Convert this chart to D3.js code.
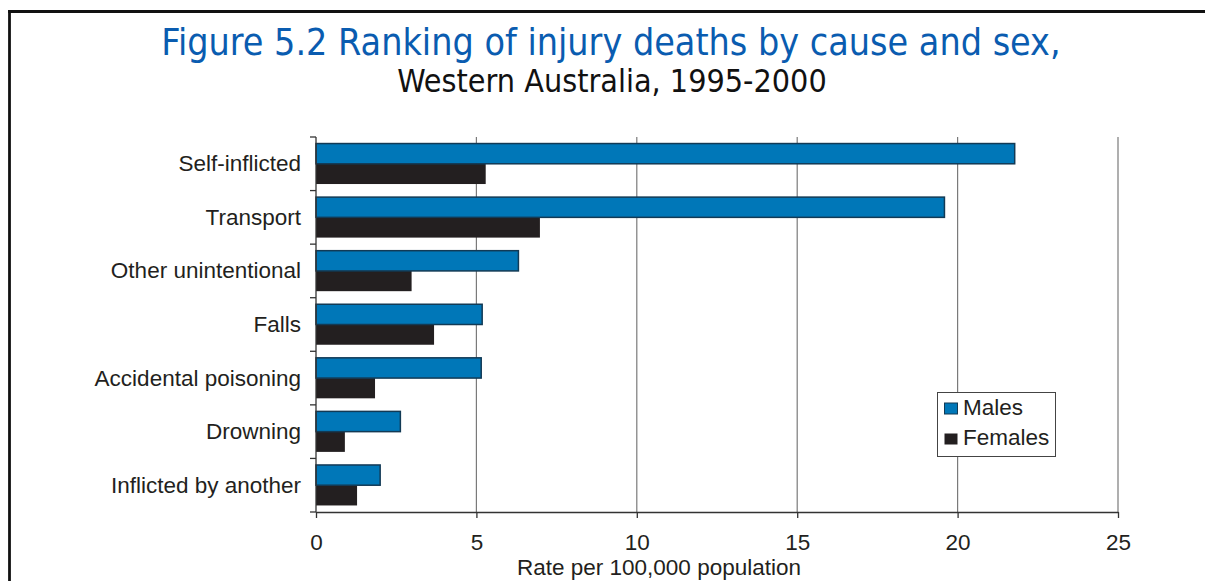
<!DOCTYPE html>
<html>
<head>
<meta charset="utf-8">
<script src="https://cdn.jsdelivr.net/npm/d3@7"></script>
<style>
  html, body { margin: 0; padding: 0; background: #fff; overflow: hidden; }
  svg { display: block; }
</style>
</head>
<body>
<svg id="chart" width="1205" height="581"></svg>
<script>
// Injury death rates per 100,000 population, WA 1995-2000
const categories = ["Self-inflicted", "Transport", "Other unintentional", "Falls",
                    "Accidental poisoning", "Drowning", "Inflicted by another"];
const males   = [21.78, 19.59, 6.31, 5.18, 5.15, 2.63, 2.00];
const females = [5.29, 6.98, 2.98, 3.68, 1.84, 0.90, 1.28];
const seriesNames = ["Males", "Females"];
const xTicks = [0, 5, 10, 15, 20, 25];

const colors = { Males: "#0077b8", Females: "#231f20" };

const svg = d3.select("#chart");
const W = 1205, H = 581;
const margin = { left: 316, right: W - 1118, top: 137, bottom: H - 512 };

// Outer frame: top and left edges (the rest runs off the page)
svg.append("line")
  .attr("x1", 9.5).attr("x2", 9.5).attr("y1", 10.1).attr("y2", H)
  .attr("stroke", "#111").attr("stroke-width", 2.8);
svg.append("line")
  .attr("x1", 8.1).attr("x2", W).attr("y1", 11.5).attr("y2", 11.5)
  .attr("stroke", "#111").attr("stroke-width", 2.8);

// Titles
svg.append("text")
  .attr("x", 611).attr("y", 55)
  .attr("text-anchor", "middle")
  .attr("font-family", "DejaVu Sans Condensed, DejaVu Sans, sans-serif")
  .attr("font-size", 37.3)
  .attr("fill", "#0a5cb0")
  .text("Figure 5.2 Ranking of injury deaths by cause and sex,");

svg.append("text")
  .attr("x", 612).attr("y", 92)
  .attr("text-anchor", "middle")
  .attr("font-family", "DejaVu Sans Condensed, DejaVu Sans, sans-serif")
  .attr("font-size", 32)
  .attr("fill", "#111")
  .text("Western Australia, 1995-2000");

const x = d3.scaleLinear().domain([0, 25]).range([margin.left, W - margin.right]);
const y = d3.scaleBand().domain(categories).range([margin.top, H - margin.bottom]).paddingInner(0).paddingOuter(0);
const sub = d3.scaleBand().domain(seriesNames).range([0, y.bandwidth()]).paddingOuter(0.323).paddingInner(0);

const font = "Liberation Sans, Arial, sans-serif";
const fs = 22.5;

// Vertical gridlines
svg.append("g").selectAll("line")
  .data(xTicks.filter(d => d > 0))
  .join("line")
  .attr("x1", d => x(d)).attr("x2", d => x(d))
  .attr("y1", margin.top).attr("y2", H - margin.bottom)
  .attr("stroke", "#7a7a7a").attr("stroke-width", 1.2);

// Bars
const rows = categories.map((c, i) => ({ cat: c, Males: males[i], Females: females[i] }));
const grp = svg.append("g").selectAll("g").data(rows).join("g")
  .attr("transform", d => `translate(0,${y(d.cat)})`);

grp.append("rect")
  .attr("x", x(0))
  .attr("y", sub("Females"))
  .attr("width", d => x(d.Females) - x(0))
  .attr("height", sub.bandwidth())
  .attr("fill", colors.Females);

grp.append("rect")
  .attr("x", x(0))
  .attr("y", sub("Males"))
  .attr("width", d => x(d.Males) - x(0))
  .attr("height", sub.bandwidth())
  .attr("fill", colors.Males)
  .attr("stroke", "#123a55").attr("stroke-width", 1.5);

// Y axis: line with ticks at band boundaries
const yAxisG = svg.append("g");
yAxisG.append("line")
  .attr("x1", x(0)).attr("x2", x(0))
  .attr("y1", margin.top).attr("y2", H - margin.bottom)
  .attr("stroke", "#333").attr("stroke-width", 1.3);
const bounds = categories.map(c => y(c)).concat([H - margin.bottom]);
yAxisG.selectAll("line.tk").data(bounds).join("line").attr("class", "tk")
  .attr("x1", x(0) - 6).attr("x2", x(0))
  .attr("y1", d => d).attr("y2", d => d)
  .attr("stroke", "#333").attr("stroke-width", 1.3);
yAxisG.selectAll("text").data(categories).join("text")
  .attr("x", 301)
  .attr("y", d => y(d) + y.bandwidth() / 2 + 7.5)
  .attr("text-anchor", "end")
  .attr("font-family", font).attr("font-size", fs)
  .attr("fill", "#231f20")
  .text(d => d);

// X axis
const xAxis = d3.axisBottom(x).tickValues(xTicks).tickSize(6).tickSizeOuter(0).tickPadding(16);
const xg = svg.append("g")
  .attr("transform", `translate(0,${H - margin.bottom})`)
  .call(xAxis);
xg.select(".domain").attr("stroke", "#333").attr("stroke-width", 1.3);
xg.selectAll(".tick line").attr("stroke", "#333").attr("stroke-width", 1.3);
xg.selectAll(".tick text")
  .attr("font-family", font).attr("font-size", fs)
  .attr("fill", "#231f20");

svg.append("text")
  .attr("x", 659)
  .attr("y", 575)
  .attr("text-anchor", "middle")
  .attr("font-family", font).attr("font-size", fs)
  .attr("fill", "#231f20")
  .text("Rate per 100,000 population");

// Legend
const lg = svg.append("g").attr("transform", "translate(937.5,392.5)");
lg.append("rect")
  .attr("width", 118).attr("height", 64)
  .attr("fill", "#fff").attr("stroke", "#444").attr("stroke-width", 1);
seriesNames.forEach((s, i) => {
  const base = 22 + i * 30.5;
  lg.append("rect")
    .attr("x", 7).attr("y", base - 11.5).attr("width", 13).attr("height", 11)
    .attr("fill", colors[s]).attr("stroke", s === "Males" ? "#123a55" : "none").attr("stroke-width", 1);
  lg.append("text")
    .attr("x", 25.5).attr("y", base)
    .attr("font-family", font).attr("font-size", fs)
    .attr("fill", "#231f20")
    .text(s);
});
</script>
</body>
</html>
